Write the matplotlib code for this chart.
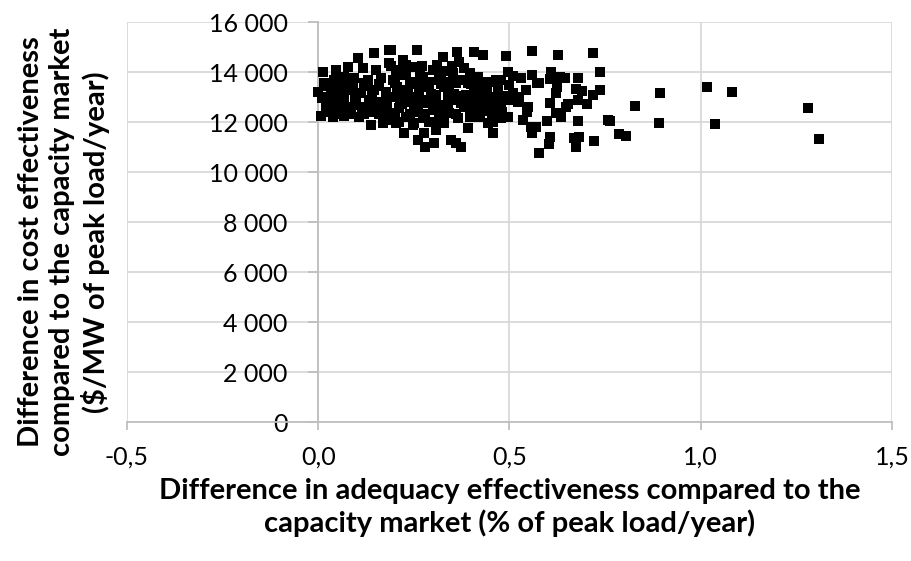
import numpy as np
import matplotlib.pyplot as plt
from matplotlib.ticker import FuncFormatter

plt.rcParams['font.family'] = ['Lato', 'DejaVu Sans']

# adequacy difference (% of peak load/year), cost difference ($/MW of peak load/year)
adequacy = [
    0.104, 0.146, 0.185, 0.013, 0.047, 0.078, 0.117, 0.151, 0.000, 0.016,
    0.042, 0.068, 0.094, 0.130, 0.164, 0.034, 0.060, 0.086, 0.112, 0.146,
    0.177, 0.042, 0.068, 0.099, 0.133, 0.164, 0.021, 0.052, 0.086, 0.120,
    0.151, 0.008, 0.039, 0.068, 0.107, 0.143, 0.177, 0.138,
    0.190, 0.258, 0.326, 0.362, 0.221, 0.367, 0.185, 0.255, 0.299, 0.333,
    0.352, 0.203, 0.229, 0.273, 0.315, 0.372, 0.195, 0.247, 0.289, 0.341,
    0.221, 0.263, 0.307, 0.359, 0.195, 0.237, 0.281, 0.326, 0.372, 0.211,
    0.255, 0.299, 0.341, 0.185, 0.229, 0.273, 0.315, 0.365, 0.203, 0.247,
    0.224, 0.276, 0.307, 0.260, 0.279, 0.302, 0.346, 0.359,
    0.406, 0.432, 0.490, 0.560, 0.495, 0.510, 0.529, 0.560, 0.573, 0.477,
    0.445, 0.542, 0.510, 0.495, 0.523, 0.549, 0.469, 0.477, 0.456, 0.437,
    0.424, 0.497, 0.477, 0.534, 0.555, 0.560, 0.458, 0.458, 0.391, 0.380,
    0.398, 0.417, 0.391, 0.406, 0.424, 0.391, 0.406, 0.380, 0.398, 0.424,
    0.443, 0.372,
    0.628, 0.719, 0.737, 0.609, 0.607, 0.576, 0.633, 0.646, 0.680, 0.674,
    0.690, 0.625, 0.622, 0.737, 0.719, 0.680, 0.703, 0.654, 0.648, 0.607,
    0.622, 0.635, 0.599, 0.680, 0.758, 0.568, 0.607, 0.602, 0.669, 0.682,
    0.674, 0.721, 0.576,
    0.893, 0.828, 0.890, 1.016, 1.083, 1.036, 0.786, 0.805, 0.763,
    1.280, 1.310,
    0.025, 0.055, 0.090, 0.125, 0.160, 0.030, 0.075, 0.115, 0.155, 0.010,
    0.050, 0.095, 0.140, 0.215, 0.240, 0.265, 0.290, 0.320, 0.345, 0.205,
    0.235, 0.265, 0.295, 0.330, 0.355, 0.215, 0.250, 0.285, 0.320, 0.350,
    0.385, 0.415, 0.440, 0.465, 0.400, 0.430, 0.455, 0.480, 0.525, 0.545,
    0.020, 0.060, 0.100, 0.140, 0.180, 0.220, 0.260, 0.300, 0.340, 0.380,
    0.040, 0.080, 0.120, 0.160, 0.200, 0.240, 0.280, 0.320, 0.360, 0.400,
    0.020, 0.060, 0.100, 0.140, 0.180, 0.220, 0.260, 0.300, 0.340, 0.380,
    0.040, 0.080, 0.120, 0.160, 0.200, 0.240, 0.280, 0.320, 0.360, 0.400,
    0.440, 0.470, 0.500, 0.450, 0.485, 0.515, 0.420, 0.465,
    0.190, 0.230, 0.270, 0.310, 0.350, 0.170, 0.210, 0.250, 0.290, 0.330,
]
cost = [
    14560, 14760, 14880, 14000, 14080, 14200, 14160, 14080, 13200, 13560,
    13680, 13800, 13760, 13680, 13760, 13160, 13280, 13280, 13160, 13280,
    13200, 12800, 12880, 12960, 12880, 12800, 12560, 12560, 12600, 12600,
    12560, 12240, 12200, 12240, 12200, 12400, 12080, 11880,
    14880, 14880, 14600, 14800, 14480, 14400, 14360, 14200, 14080, 14040,
    13960, 14080, 14000, 13800, 13680, 13680, 13680, 13560, 13400, 13360,
    13280, 13160, 13080, 13000, 13000, 12800, 12760, 12680, 12760, 12560,
    12400, 12480, 12360, 12360, 12200, 12160, 12080, 12160, 11960, 11880,
    11560, 11560, 11680, 11280, 11000, 11160, 11280, 11160,
    14800, 14680, 14640, 14840, 14000, 13840, 13760, 13880, 13560, 13680,
    13600, 13280, 13160, 12880, 12800, 12600, 12960, 12600, 12560, 12680,
    12800, 12200, 12160, 12080, 11800, 11560, 12000, 11560, 11760, 14160,
    13960, 13800, 13560, 13280, 13400, 12960, 12760, 12600, 12200, 12200,
    11960, 11000,
    14680, 14760, 14000, 14000, 13720, 13560, 13800, 13760, 13760, 13320,
    13240, 13400, 13160, 13280, 13080, 12880, 12720, 12720, 12600, 12760,
    12360, 12200, 12040, 12040, 12080, 11800, 11400, 11120, 11360, 11400,
    11000, 11240, 10760,
    13160, 12640, 11960, 13400, 13200, 11920, 11520, 11440, 12040,
    12560, 11320,
    13440, 13440, 13440, 13440, 13440, 12400, 12400, 12400, 12400, 12960,
    12960, 12960, 12960, 13900, 13600, 13900, 13600, 13900, 13600, 13400,
    13120, 13400, 13120, 13400, 13120, 12880, 12600, 12880, 12600, 12880,
    13100, 13100, 13400, 13000, 12400, 12450, 12300, 12400, 13000, 12400,
    13000, 13050, 13000, 13050, 13000, 13050, 13000, 13050, 13000, 13050,
    13560, 13520, 13560, 13520, 13560, 13520, 13560, 13520, 13560, 13520,
    12700, 12720, 12700, 12720, 12700, 12720, 12700, 12720, 12700, 12720,
    12320, 12340, 12320, 12340, 12320, 12340, 12320, 12340, 12320, 12340,
    13200, 13350, 13500, 12850, 13050, 12950, 12450, 13700,
    14250, 14300, 14250, 14300, 14250, 11950, 12000, 11950, 12000, 11950,
]

fig = plt.figure(figsize=(9.12, 5.61), dpi=100)
ax = fig.add_axes([127/912, 1 - 422/561, 765/912, 400/561])

ax.scatter(adequacy, cost, marker='s', s=42, color='black', linewidths=0, zorder=3)

ax.set_xlim(-0.5, 1.5)
ax.set_ylim(0, 16000)
ax.set_xticks([-0.5, 0.0, 0.5, 1.0, 1.5])
ax.set_yticks(range(0, 16001, 2000))
ax.xaxis.set_major_formatter(FuncFormatter(lambda v, p: f"{v:.1f}".replace('.', ',')))
ax.yaxis.set_major_formatter(FuncFormatter(lambda v, p: f"{int(v):,}".replace(',', ' ')))

ax.grid(True, color='#d9d9d9', linewidth=1.3, zorder=0)
ax.set_axisbelow(True)
for s in ['top', 'right']:
    ax.spines[s].set_visible(False)
ax.spines['left'].set_position(('data', 0))
ax.spines['left'].set_color('#bfbfbf')
ax.spines['bottom'].set_color('#bfbfbf')
ax.spines['left'].set_linewidth(1.3)
ax.spines['bottom'].set_linewidth(1.3)
ax.tick_params(axis='y', length=7, width=1.3, color='#bfbfbf', pad=15, labelsize=18, labelcolor='black')
ax.tick_params(axis='x', length=6, width=1.3, color='#bfbfbf', pad=11, labelsize=18, labelcolor='black')

ax.set_xlabel("Difference in adequacy effectiveness compared to the\ncapacity market (% of peak load/year)",
              fontsize=21, fontweight='bold', linespacing=1.25)
ax.xaxis.set_label_coords(0.5, -0.14)
ax.xaxis.label.set_va('top')

ax.set_ylabel("Difference in cost effectiveness\ncompared to the capacity market\n($/MW of peak load/year)",
              fontsize=21, fontweight='bold', linespacing=1.25)
ax.yaxis.set_label_coords(-0.022, 0.45)

fig.savefig('out.png', dpi=100)
